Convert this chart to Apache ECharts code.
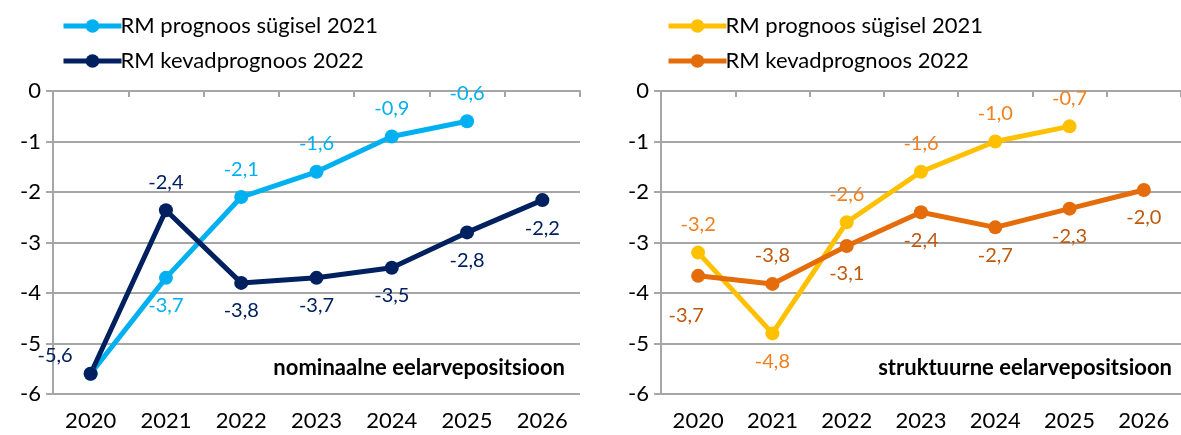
<!DOCTYPE html>
<html>
<head>
<meta charset="utf-8">
<script src="https://cdn.jsdelivr.net/npm/echarts@6/dist/echarts.min.js"></script>
<style>
  html, body { margin: 0; padding: 0; background: #fff; }
  #main { width: 1181px; height: 435px; }
</style>
</head>
<body>
<div id="main"></div>
<script>
var years = ['2020', '2021', '2022', '2023', '2024', '2025', '2026'];
var yTicks = [0, -1, -2, -3, -4, -5, -6];

// nominaalne eelarvepositsioon
var nomSygis2021 = [-5.6, -3.7, -2.1, -1.6, -0.9, -0.6, null];
var nomKevad2022 = [-5.6, -2.36, -3.8, -3.7, -3.5, -2.8, -2.16];

// struktuurne eelarvepositsioon
var strSygis2021 = [-3.2, -4.8, -2.6, -1.6, -1.0, -0.7, null];
var strKevad2022 = [-3.66, -3.82, -3.07, -2.4, -2.7, -2.33, -1.96];

var seriesNames = ['RM prognoos sügisel 2021', 'RM kevadprognoos 2022'];
var panelTitles = ['nominaalne eelarvepositsioon', 'struktuurne eelarvepositsioon'];

var font = 'Lato, "Open Sans", sans-serif';
var gridColor = '#A6A6A6';

function fmt(p) {
  return p.value == null ? '' : p.value.toFixed(1).replace('.', ',');
}

// build data items with per-point label placement
function withLabels(values, positions, offsets, hidden) {
  return values.map(function (v, i) {
    var item = { value: v, label: { position: positions[i] } };
    if (offsets && offsets[i]) item.label.offset = offsets[i];
    if (hidden && hidden[i]) item.label.show = false;
    return item;
  });
}

function makeSeries(name, values, color, labelColor, idx) {
  return {
    name: name,
    type: 'line',
    xAxisIndex: idx * 2,
    yAxisIndex: idx,
    data: values,
    symbol: 'circle',
    symbolSize: 14,
    lineStyle: { width: 5, color: color },
    itemStyle: { color: color },
    label: {
      show: true,
      formatter: fmt,
      color: labelColor,
      fontFamily: font,
      fontSize: 20,
      distance: 11
    },
    z: 3
  };
}

function xAxes(gi) {
  return [
    {
      type: 'category', gridIndex: gi, data: years, position: 'bottom',
      axisLine: { show: false }, axisTick: { show: false },
      axisLabel: { color: '#000', fontSize: 22, fontFamily: font, margin: 16 }
    },
    {
      type: 'category', gridIndex: gi, data: years, position: 'top',
      axisLine: { show: true, lineStyle: { color: gridColor, width: 2 } },
      axisTick: { show: true, inside: true, length: 6, lineStyle: { color: gridColor, width: 2 } },
      axisLabel: { show: false }
    }
  ];
}

function yAxis(gi) {
  return {
    type: 'value', gridIndex: gi, min: -6, max: 0, interval: 1,
    axisLine: { show: true, lineStyle: { color: gridColor, width: 2 } },
    axisTick: { show: true, length: 7, lineStyle: { color: gridColor, width: 2 } },
    splitLine: { show: true, lineStyle: { color: gridColor, width: 2 } },
    axisLabel: {
      color: '#000', fontSize: 22, fontFamily: font, margin: 12,
      formatter: function (v) { return yTicks.indexOf(v) >= 0 ? String(v) : ''; }
    }
  };
}

function legend(names, left) {
  return {
    data: names.map(function (n) { return { name: n }; }),
    orient: 'vertical', left: left, top: 10, itemWidth: 58, itemHeight: 17, itemGap: 13,
    lineStyle: { width: 5 },
    textStyle: { fontSize: 22, fontFamily: font, color: '#000', padding: [0, 0, 0, -6] },
    formatter: function (n) { return n.replace(/#\d$/, ''); }
  };
}

var chart = echarts.init(document.getElementById('main'));

chart.setOption({
  animation: false,
  grid: [
    { left: 53, width: 527, top: 91, height: 303 },
    { left: 661, width: 527, top: 91, height: 303 }
  ],
  legend: [
    legend([seriesNames[0], seriesNames[1]], 56),
    legend([seriesNames[0] + '#2', seriesNames[1] + '#2'], 661)
  ],
  xAxis: xAxes(0).concat(xAxes(1)),
  yAxis: [yAxis(0), yAxis(1)],
  graphic: [
    {
      type: 'text', right: 1181 - 565, top: 357,
      style: { text: panelTitles[0], font: 'bold 22px ' + font, fill: '#000' }
    },
    {
      type: 'text', right: 9, top: 357,
      style: { text: panelTitles[1], font: 'bold 22px ' + font, fill: '#000' }
    }
  ],
  series: [
    makeSeries(seriesNames[0], withLabels(nomSygis2021,
      ['top', 'bottom', 'top', 'top', 'top', 'top', 'top'], null,
      [true, false, false, false, false, false, false]), '#00B0F0', '#00B0F0', 0),
    makeSeries(seriesNames[1], withLabels(nomKevad2022,
      ['left', 'top', 'bottom', 'bottom', 'bottom', 'bottom', 'bottom'],
      [[0, -18], null, null, null, null, null, null]), '#002060', '#002060', 0),
    makeSeries(seriesNames[0] + '#2', withLabels(strSygis2021,
      ['top', 'bottom', 'top', 'top', 'top', 'top', 'top'], null), '#FFC000', '#F07F1E', 1),
    makeSeries(seriesNames[1] + '#2', withLabels(strKevad2022,
      ['bottom', 'top', 'bottom', 'bottom', 'bottom', 'bottom', 'bottom'],
      [[-12, 12], null, null, null, null, null, null]), '#E46C0A', '#C0580C', 1)
  ]
});
</script>
</body>
</html>
